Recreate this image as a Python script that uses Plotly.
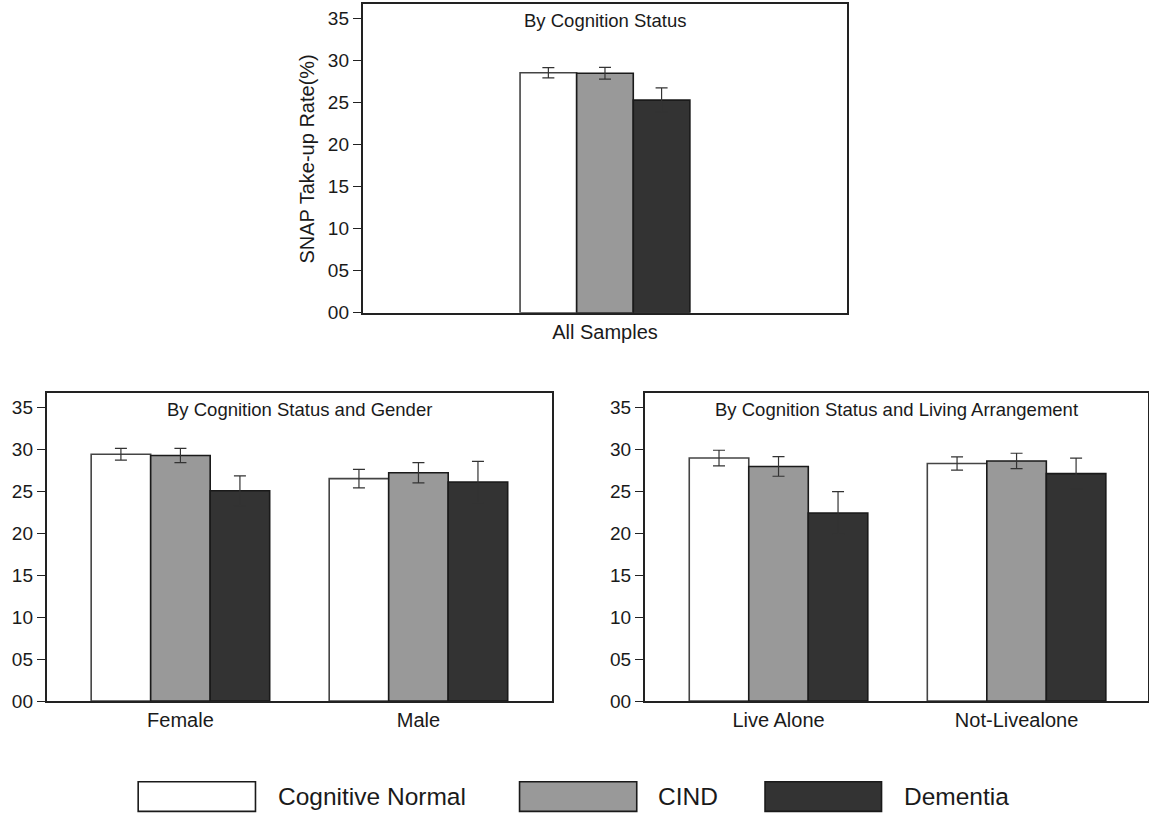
import plotly.graph_objects as go

# ---------------- data ----------------
series_names = ["Cognitive Normal", "CIND", "Dementia"]

categories_all = ["All Samples"]
normal_all = [28.55]
normal_all_err = [0.6]
cind_all = [28.5]
cind_all_err = [0.7]
dementia_all = [25.3]
dementia_all_err = [1.45]

categories_gender = ["Female", "Male"]
normal_gender = [29.4, 26.5]
normal_gender_err = [0.7, 1.1]
cind_gender = [29.25, 27.2]
cind_gender_err = [0.85, 1.2]
dementia_gender = [25.05, 26.1]
dementia_gender_err = [1.78, 2.45]

categories_living = ["Live Alone", "Not-Livealone"]
normal_living = [28.95, 28.3]
normal_living_err = [0.93, 0.8]
cind_living = [27.95, 28.6]
cind_living_err = [1.17, 0.92]
dementia_living = [22.4, 27.1]
dementia_living_err = [2.55, 1.85]

y_ticks = [0, 5, 10, 15, 20, 25, 30, 35]

panel_titles = ["By Cognition Status",
                "By Cognition Status and Gender",
                "By Cognition Status and Living Arrangement"]
y_title = "SNAP Take-up Rate(%)"

# ---------------- style ----------------
FONT = "Liberation Sans, Arial, sans-serif"
fills = ["#ffffff", "#999999", "#333333"]
outlines = ["#444444", "#1a1a1a", "#1a1a1a"]
offsets = [-0.375, -0.125, 0.125]
BAR_W = 0.25
W, H = 1149, 827

fig = go.Figure()

panels = [
    ("x", "y", categories_all,
     [(normal_all, normal_all_err), (cind_all, cind_all_err), (dementia_all, dementia_all_err)]),
    ("x2", "y2", categories_gender,
     [(normal_gender, normal_gender_err), (cind_gender, cind_gender_err), (dementia_gender, dementia_gender_err)]),
    ("x3", "y3", categories_living,
     [(normal_living, normal_living_err), (cind_living, cind_living_err), (dementia_living, dementia_living_err)]),
]

for xa, ya, cats, groups in panels:
    for i, (vals, errs) in enumerate(groups):
        fig.add_trace(go.Bar(
            x=cats, y=vals, name=series_names[i],
            xaxis=xa, yaxis=ya,
            offset=offsets[i], width=BAR_W,
            marker=dict(color=fills[i], line=dict(color=outlines[i], width=1.6)),
            error_y=dict(type="data", array=errs, visible=True,
                         color="#333333", thickness=1.2, width=6),
            showlegend=False,
        ))

def px_x(v):
    return v / W

def px_y(v):
    return 1 - v / H

# plot-area pixel boxes (left, right, top, bottom)
boxes = [
    (363, 848, 4.3, 317),
    (46.7, 552.7, 398.3, 710.5),
    (645.3, 1148.5, 398.3, 710.5),
]
xranges = [[-1.07, 1.07], [-0.562, 1.562], [-0.562, 1.55]]

axis_common = dict(showline=True, mirror=True, linecolor="#222222", linewidth=1.8,
                   showgrid=False, zeroline=False)

layout = dict(
    width=W, height=H,
    margin=dict(l=0, r=0, t=0, b=0),
    paper_bgcolor="white", plot_bgcolor="white",
    barmode="overlay",
    font=dict(family=FONT, color="#1a1a1a"),
    annotations=[], shapes=[],
)

for k, (l, r, t, b) in enumerate(boxes):
    sx = "" if k == 0 else str(k + 1)
    layout["xaxis" + sx] = dict(
        domain=[px_x(l), px_x(r)], range=xranges[k], type="category",
        anchor="y" + sx, ticks="", tickfont=dict(size=20, family=FONT, color="#1a1a1a"),
        **axis_common)
    layout["yaxis" + sx] = dict(
        domain=[px_y(b), px_y(t)], range=[0, 36.7], anchor="x" + sx,
        tickvals=y_ticks, tickformat="02d",
        ticks="outside", ticklen=8, tickwidth=1.3, tickcolor="#222222",
        tickfont=dict(size=19, family=FONT, color="#1a1a1a"),
        **axis_common)
    layout["annotations"].append(dict(
        text=panel_titles[k], xref="paper", yref="paper",
        x=px_x((l + r) / 2), y=px_y(t + 16.5), xanchor="center", yanchor="middle",
        showarrow=False, font=dict(size=18.5, family=FONT, color="#1a1a1a")))

layout["annotations"].append(dict(
    text=y_title, xref="paper", yref="paper", textangle=-90,
    x=px_x(307), y=px_y(161), xanchor="center", yanchor="middle",
    showarrow=False, font=dict(size=20, family=FONT, color="#1a1a1a")))

# legend (drawn as boxes + labels)
legend_boxes = [(138.3, 255.7), (520, 637.3), (765.7, 882.3)]
legend_text_x = [276, 656.7, 902.7]
for i in range(3):
    x0, x1 = legend_boxes[i]
    layout["shapes"].append(dict(
        type="rect", xref="paper", yref="paper",
        x0=px_x(x0), x1=px_x(x1), y0=px_y(822.3), y1=px_y(792.3),
        fillcolor=fills[i], line=dict(color="#1a1a1a", width=1.6)))
    layout["annotations"].append(dict(
        text=series_names[i], xref="paper", yref="paper",
        x=px_x(legend_text_x[i]), y=px_y(807), xanchor="left", yanchor="middle",
        showarrow=False, font=dict(size=24.5, family=FONT, color="#1a1a1a")))

fig.update_layout(**layout)
fig.write_html("out.html", config={"displayModeBar": False},
               post_script="document.body.style.margin='0px';document.body.style.overflow='hidden';")
